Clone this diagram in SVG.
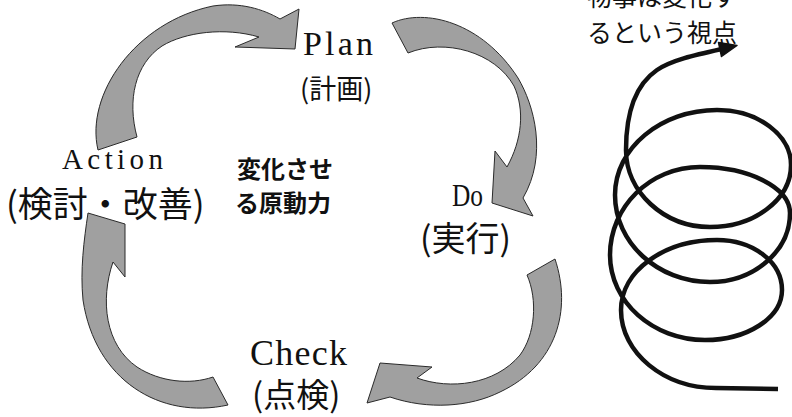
<svg xmlns="http://www.w3.org/2000/svg" width="792" height="417" viewBox="0 0 792 417">
  <style>
    .arrow { fill: #a0a0a0; stroke: #2a2a2a; stroke-width: 1; stroke-linejoin: miter; }
    .lat { font-family: "Liberation Serif", "Times New Roman", serif; fill: #111; }
    .jp { font-family: "Noto Sans CJK JP", "Noto Sans", sans-serif; fill: #111; }
    .jpb { font-family: "Noto Sans CJK JP", "Noto Sans", sans-serif; fill: #111; font-weight: 700; }
    .spiral { fill: none; stroke: #111; stroke-width: 4.5; stroke-linecap: butt; stroke-linejoin: round; }
  </style>
  <rect width="792" height="417" fill="#ffffff"/>

  <g id="connectors">
    <path id="arrow-action-plan" class="arrow" d="M98,150 C85,95 135,22 213,6 C240,2 263,9 280,19 L299,9 L295,49 L235,47 L259,37 C225,27 185,32 162,46 C135,64 127,100 137,137 Z"/>
    <path id="arrow-plan-do" class="arrow" d="M392,23 C425,8 482,22 518,78 C534,105 548,155 523,198 L533,216 L492,203 L495,151 L507,167 C522,140 525,110 514,86 C495,52 445,38 408,53 Z"/>
    <path id="arrow-do-check" class="arrow" d="M555,259 C572,310 557,365 500,392 C470,407 428,410 390,397 L367,403 L380,363 L432,367 L417,378 C450,390 495,385 520,355 C535,335 538,300 527,275 Z"/>
    <path id="arrow-check-action" class="arrow" d="M228,405 C160,420 95,380 83,300 C80,270 84,240 88,213 L125,224 L125,277 L113,262 C100,300 105,345 137,367 C160,382 190,385 213,377 Z"/>
  </g>

  <g id="node-plan">
    <text class="lat" x="303" y="55" font-size="34" textLength="70" lengthAdjust="spacing">Plan</text>
    <text class="jp" x="300" y="99" font-size="27">(計画)</text>
  </g>

  <g id="node-do">
    <text class="lat" x="452" y="206" font-size="32" textLength="31" lengthAdjust="spacingAndGlyphs">Do</text>
    <text class="jp" x="420" y="251" font-size="34">(実行)</text>
  </g>

  <g id="node-check">
    <text class="lat" x="250" y="365" font-size="36" textLength="97" lengthAdjust="spacing">Check</text>
    <text class="jp" x="252" y="407" font-size="33">(点検)</text>
  </g>

  <g id="node-action">
    <text class="lat" x="62" y="169" font-size="29" textLength="101" lengthAdjust="spacing">Action</text>
    <text class="jp" x="6" y="217" font-size="35">(検討・改善)</text>
  </g>

  <g id="node-center">
    <text class="jpb" x="237" y="178" font-size="24">変化させ</text>
    <text class="jpb" x="235" y="212" font-size="24">る原動力</text>
  </g>

  <g id="node-spiral">
    <text class="jp" x="587" y="6" font-size="25">物事は変化す</text>
    <text class="jp" x="587" y="42" font-size="25">るという視点</text>
    <path class="spiral" d="M778,389 L716,388 C664,388 621,353 621,310 C621,271 664,240 717,240 C753,240 782,262 782,290 C782,318 747,340 705,340 C653,340 610,302 610,255 C610,207 650,167 700,167 C750,167 790,188 790,213 C790,251 754,282 710,282 C658,282 615,243 615,195 C615,148 661,110 717,110 C758,110 791,135 791,165 C791,199 755,227 710,227 C664,227 626,192 626,150 C626,115 635,85 657,70 C672,60 695,55 722,49"/>
    <polygon points="737,45.5 721.5,56.5 718.5,42.5" fill="#111" stroke="#111" stroke-width="1.5" stroke-linejoin="round"/>
  </g>
</svg>
